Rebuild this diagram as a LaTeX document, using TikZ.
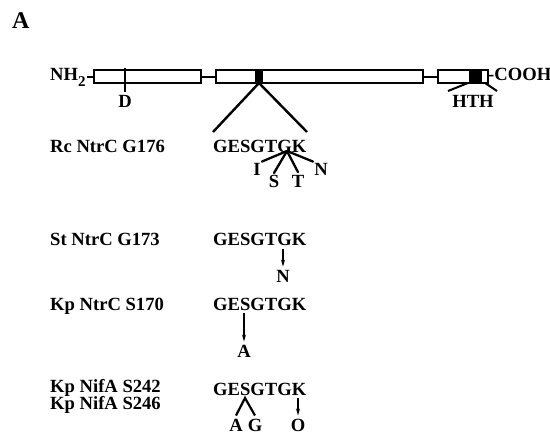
\documentclass[tikz,border=0pt]{standalone}
\usepackage{fontspec}
\setmainfont{Liberation Serif}
\usetikzlibrary{arrows.meta}
\begin{document}
\begin{tikzpicture}[x=1pt,y=-1pt,
  lbl/.style={font=\fontsize{18.6}{18.6}\selectfont\bfseries, inner sep=0pt, anchor=base west},
  res/.style={font=\fontsize{18.6}{18.6}\selectfont\bfseries, inner sep=0pt, anchor=base},
  dom/.style={draw, line width=2pt, fill=white, inner sep=0pt, anchor=west, minimum height=13pt},
  link/.style={line width=2pt},
  fan/.style={line width=2.3pt, line cap=round},
  mut/.style={line width=1.3pt, -{Stealth[length=7pt,width=4pt]}}]
\useasboundingbox (0,0) rectangle (550,434);
% panel label
\node[font=\fontsize{24}{24}\selectfont\bfseries, inner sep=0pt, anchor=base west] (panel) at (12,28) {A};
% protein bar
\node[lbl] (nh) at (50,80) {NH\raisebox{-6pt}{\fontsize{15}{15}\selectfont 2}};
\node[dom, minimum width=107pt] (d1) at (93,76.5) {};
\node[dom, minimum width=207pt] (d2) at (215,76.5) {};
\node[dom, minimum width=50pt] (d3) at (437,76.5) {};
\draw[link] (d1.west) -- ++(-6,0);
\draw[link] (d1.east) -- (d2.west);
\draw[link] (d2.east) -- (d3.west);
\fill (255,69.5) rectangle (263,83.5);
\fill (469,69.5) rectangle (482,83.5);
\node[lbl] (cooh) at (488,80) {-COOH};
% D site
\coordinate (dt) at (125,68);
\coordinate (db) at (125,92);
\draw[line width=1.5pt] (dt) -- (db);
\node[res] (dlab) at (125,107) {D};
% HTH bracket
\coordinate (h1) at (448,91);
\coordinate (h2) at (468,83);
\coordinate (h3) at (485,83);
\coordinate (h4) at (497,91);
\draw[link] (h1) -- (h2);
\draw[link] (h3) -- (h4);
\node[res] (hth) at (473,107) {HTH};
% zoom lines
\coordinate (spot) at (259,83);
\coordinate (fl) at (213,132);
\coordinate (fr) at (307,132);
\draw[line width=2.4pt] (fl) -- (spot) -- (fr);
% Rc NtrC
\node[lbl] (rc) at (50,152) {Rc NtrC G176};
\node[lbl] (s1) at (213,152) {GESGTGK};
\coordinate (fo) at (287,151);
\node[res] (rI) at (257,175) {I};
\node[res] (rS) at (274,187) {S};
\node[res] (rT) at (298,187) {T};
\node[res] (rN) at (321,175) {N};
\draw[fan] (fo) -- ([xshift=1pt,yshift=1pt]rI.north east);
\draw[fan] (fo) -- ([yshift=1.5pt]rS.north);
\draw[fan] (fo) -- ([yshift=2.5pt]rT.north);
\draw[fan] (fo) -- ([xshift=-1pt,yshift=1pt]rN.north west);
% St NtrC
\node[lbl] (st) at (50,245) {St NtrC G173};
\node[lbl] (s2) at (213,245) {GESGTGK};
\coordinate (a2) at (283,249);
\node[res] (m2) at (283,282) {N};
\draw[mut] (a2) -- ([yshift=3pt]m2.north);
% Kp NtrC
\node[lbl] (kp) at (50,310) {Kp NtrC S170};
\node[lbl] (s3) at (213,310) {GESGTGK};
\coordinate (a3) at (244,313);
\node[res] (m3) at (244,357) {A};
\draw[mut] (a3) -- ([yshift=3pt]m3.north);
% Kp NifA
\node[lbl] (kn1) at (50,392) {Kp NifA S242};
\node[lbl] (kn2) at (50,409) {Kp NifA S246};
\node[lbl] (s4) at (213,395) {GESGTGK};
\coordinate (ap) at (245,398);
\node[res] (m4a) at (236,431) {A};
\node[res] (m4g) at (255,431) {G};
\node[res] (m4o) at (298,431) {O};
\draw[line width=2.2pt, line join=miter] ([yshift=3pt]m4a.north) -- (ap) -- ([yshift=3pt]m4g.north);
\coordinate (a4) at (298,398);
\draw[mut] (a4) -- ([yshift=3pt]m4o.north);
\end{tikzpicture}
\end{document}
